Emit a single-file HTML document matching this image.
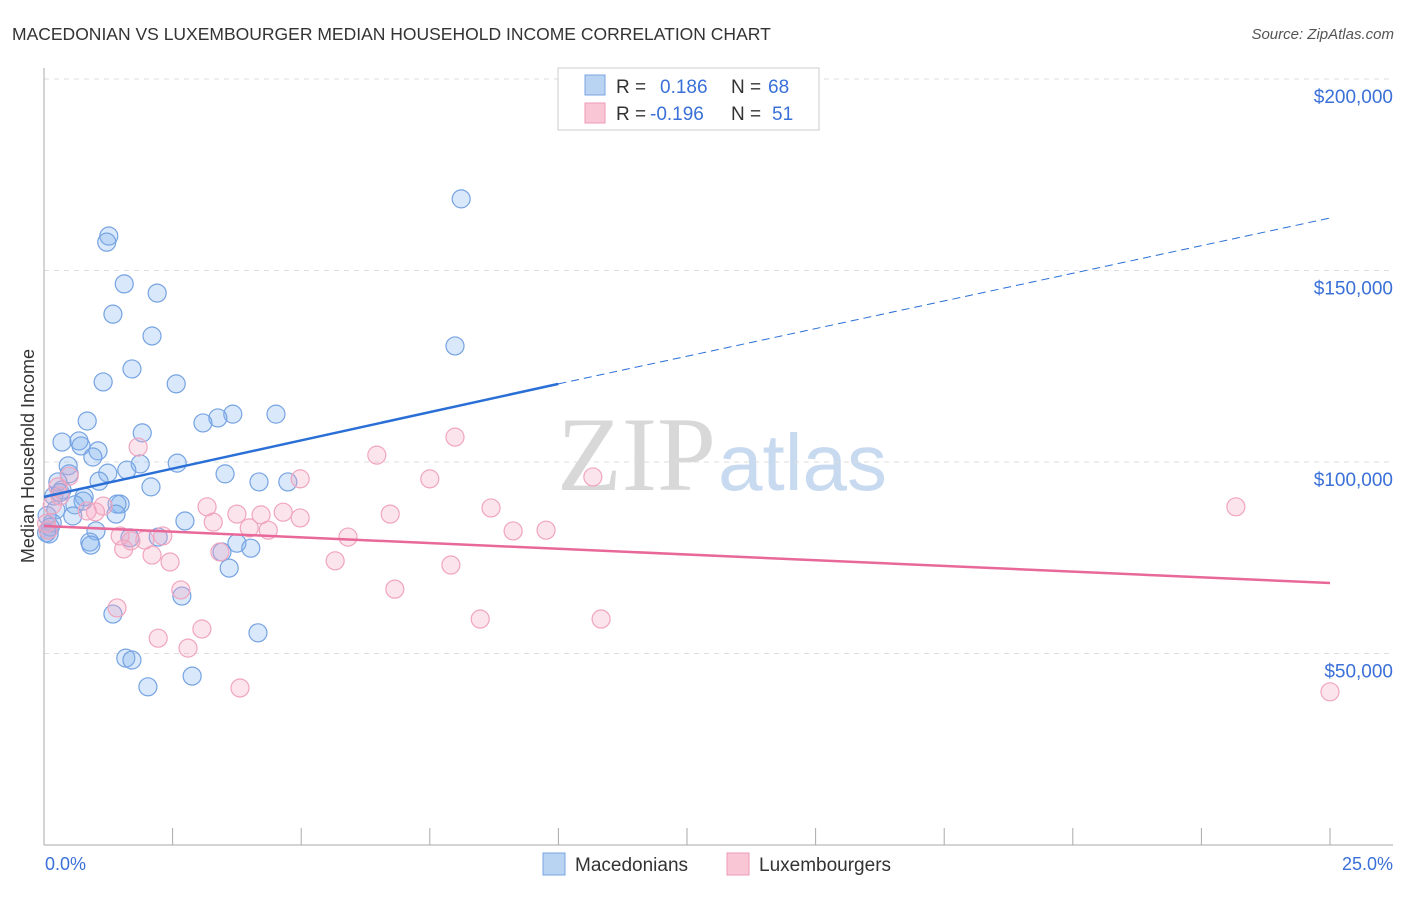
<!DOCTYPE html>
<html><head><meta charset="utf-8"><style>
body{margin:0;background:#fff;font-family:"Liberation Sans",sans-serif;}
</style></head><body>
<svg width="1406" height="892" viewBox="0 0 1406 892">
<text x="12" y="40" font-size="17.5" fill="#333">MACEDONIAN VS LUXEMBOURGER MEDIAN HOUSEHOLD INCOME CORRELATION CHART</text>
<text x="1394" y="39" font-size="15" fill="#555" text-anchor="end" font-style="italic">Source: ZipAtlas.com</text>
<text x="716" y="490" font-size="106" fill="#d8d8d8" text-anchor="end" font-family="Liberation Serif,serif">ZIP</text>
<text x="718" y="490" font-size="80" fill="#c8daf0">atlas</text>
<g id="grid"></g>
<line x1="44" y1="68" x2="44" y2="845" stroke="#aaa"/>
<line x1="44" y1="845" x2="1393" y2="845" stroke="#aaa"/>
<g id="xt"></g>
<text x="28" y="456" font-size="18" fill="#333" text-anchor="middle" transform="rotate(-90 28 456)" dy="6">Median Household Income</text>
<text x="45" y="870" font-size="18" fill="#3a70d8">0.0%</text>
<text x="1393" y="870" font-size="18" fill="#3a70d8" text-anchor="end">25.0%</text>
<g id="pts"></g>
<g id="lines"></g>
<g>
<rect x="558" y="68" width="261" height="62" fill="#fff" stroke="#ccc"/>
<rect x="585" y="75" width="20" height="20" fill="#b9d3f3" stroke="#7aa6e0"/>
<rect x="585" y="103" width="20" height="20" fill="#f9c6d6" stroke="#ee9ab5"/>
<text x="616" y="93" font-size="19" fill="#333">R = <tspan fill="#3a70d8" x="660">0.186</tspan><tspan fill="#333" x="731">N = </tspan><tspan fill="#3a70d8" x="768">68</tspan></text>
<text x="616" y="120" font-size="19" fill="#333">R = <tspan fill="#3a70d8" x="650">-0.196</tspan><tspan fill="#333" x="731">N = </tspan><tspan fill="#3a70d8" x="772">51</tspan></text>
</g>
<g>
<rect x="543" y="853" width="22" height="22" fill="#b9d3f3" stroke="#7aa6e0"/>
<text x="575" y="871" font-size="19" fill="#333">Macedonians</text>
<rect x="727" y="853" width="22" height="22" fill="#f9c6d6" stroke="#ee9ab5"/>
<text x="759" y="871" font-size="19" fill="#333">Luxembourgers</text>
</g>
</svg>
<script>
const yTicks=[50000,100000,150000,200000];
const yTickLabels=["$50,000","$100,000","$150,000","$200,000"];
const xTicks=[0,2.5,5,7.5,10,12.5,15,17.5,20,22.5,25];
const macX=[8.11,1.26,1.22,1.56,2.20,1.34,2.10,7.99,1.71,1.15,2.57,4.51,3.67,3.38,3.09,0.84,1.91,0.35,0.68,0.72,1.05,0.95,2.59,1.87,1.61,0.47,1.24,3.52,0.49,4.74,4.18,1.07,0.27,2.08,0.35,0.19,0.78,0.76,1.48,1.42,0.60,0.23,1.40,0.56,2.74,0.16,0.08,1.01,0.10,2.22,1.67,0.89,0.91,3.75,4.02,3.46,3.60,2.68,1.34,4.16,1.59,1.71,2.02,2.88,0.06,0.31,0.12,0.05];
const macY=[168.7,159.0,157.4,146.5,144.1,138.6,132.9,130.3,124.3,120.9,120.4,112.5,112.5,111.5,110.2,110.7,107.6,105.2,105.5,104.2,102.9,101.3,99.7,99.5,97.9,99.0,97.1,96.9,96.9,94.8,94.8,95.0,94.8,93.5,92.7,91.1,90.9,89.8,89.0,89.0,88.8,87.5,86.4,85.9,84.6,84.1,82.2,82.0,81.2,80.4,80.2,79.1,78.3,78.8,77.5,76.5,72.3,65.0,60.3,55.4,48.8,48.3,41.3,44.1,86.0,92.0,83.0,81.5];
const luxX=[1.83,7.99,6.47,10.67,7.50,4.98,23.17,8.69,3.17,0.49,0.27,1.15,0.84,3.75,4.22,4.65,6.73,4.98,3.29,4.36,3.99,9.12,9.76,1.48,2.31,5.91,1.69,1.96,1.55,2.10,3.42,2.45,5.66,7.91,2.66,6.82,1.42,8.48,10.83,3.07,2.22,2.80,3.81,25.0,0.08,0.16,0.31,0.05,1.00];
const luxY=[103.9,106.5,101.8,96.1,95.6,95.6,88.3,88.0,88.3,96.3,93.5,88.5,87.2,86.4,86.2,86.9,86.4,85.4,84.3,82.2,82.8,82.0,82.2,80.7,80.7,80.4,79.4,79.6,77.3,75.7,76.5,73.9,74.2,73.1,66.6,66.8,61.9,59.0,59.0,56.4,54.0,51.4,41.0,40.0,82.2,88.8,91.1,84.0,87.0];
const macTrend=[[0,90.9],[10,120.4],[25,163.7]];
const luxTrend=[[0,83.3],[25,68.4]];
const X=p=>44+p/25*1286;
const Y=k=>845-k*1000/50000*191.5;
const NS="http://www.w3.org/2000/svg";
function mk(t,a,parent){const e=document.createElementNS(NS,t);for(const k in a)e.setAttribute(k,a[k]);parent.appendChild(e);return e;}
const grid=document.getElementById('grid');
yTicks.forEach((v,i)=>{
 const y=Y(v/1000);
 const l=mk('line',{x1:44,x2:1393,y1:y,y2:y,stroke:'#ddd','stroke-dasharray':'5,5'},grid);
 
 
 const t=mk('text',{x:1393,y:y+24,'font-size':19,fill:'#3a70d8','text-anchor':'end'},grid);
 t.textContent=yTickLabels[i];
 
 
});
const xt=document.getElementById('xt');
xTicks.forEach(p=>{
 const l=mk('line',{x1:X(p),x2:X(p),y1:828,y2:845,stroke:'#aaa'},xt);
 
 
});
const pts=document.getElementById('pts');
macX.forEach((x,i)=>{
 const c=mk('circle',{cx:X(x),cy:Y(macY[i]),r:9,fill:'rgba(130,178,238,0.3)',stroke:'#76a3e2','stroke-width':1.2},pts);
 
 
});
luxX.forEach((x,i)=>{
 const c=mk('circle',{cx:X(x),cy:Y(luxY[i]),r:9,fill:'rgba(245,165,195,0.3)',stroke:'#f0a5be','stroke-width':1.2},pts);
 
 
});
const lines=document.getElementById('lines');
const b1=mk('line',{x1:X(macTrend[0][0]),y1:Y(macTrend[0][1]),x2:X(macTrend[1][0]),y2:Y(macTrend[1][1]),stroke:'#2a6fd6','stroke-width':2.5},lines);


const b2=mk('line',{x1:X(macTrend[1][0]),y1:Y(macTrend[1][1]),x2:X(macTrend[2][0]),y2:Y(macTrend[2][1]),stroke:'#2a6fd6','stroke-width':1,'stroke-dasharray':'8,5'},lines);


const p1=mk('line',{x1:X(luxTrend[0][0]),y1:Y(luxTrend[0][1]),x2:X(luxTrend[1][0]),y2:Y(luxTrend[1][1]),stroke:'#e8689a','stroke-width':2.5},lines);


</script>
</body></html>
